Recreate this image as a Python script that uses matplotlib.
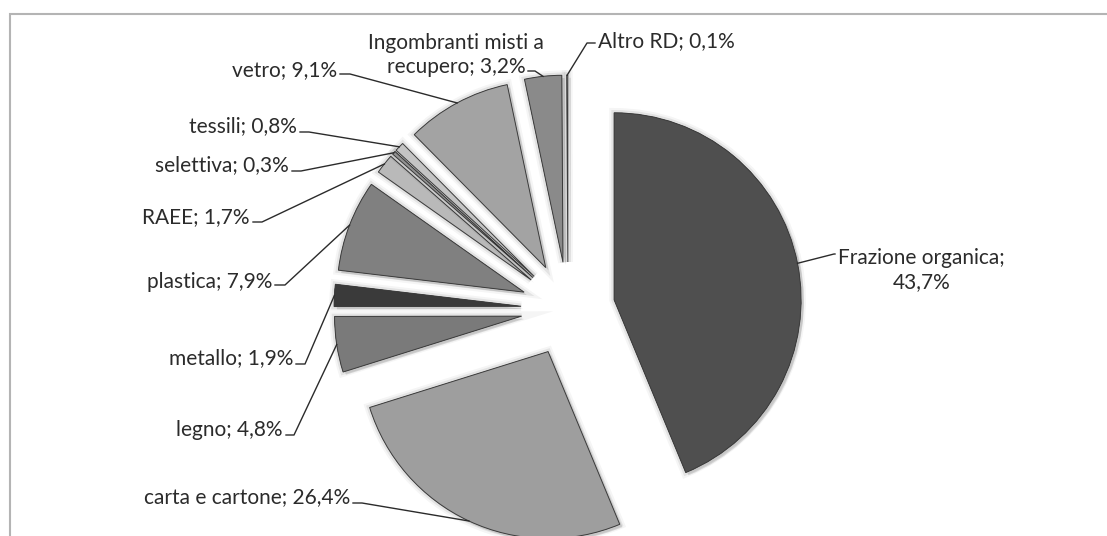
import numpy as np
import matplotlib
matplotlib.use("Agg")
import matplotlib.pyplot as plt
import matplotlib.patheffects as pe
from matplotlib.patches import Rectangle

# dati (percentuali raccolta differenziata)
nomi = ["Frazione organica", "carta e cartone", "legno", "metallo", "plastica",
        "RAEE", "selettiva", "tessili", "vetro",
        "Ingombranti misti a\nrecupero", "Altro RD"]
valori = [43.7, 26.4, 4.8, 1.9, 7.9, 1.7, 0.3, 0.8, 9.1, 3.2, 0.1]
colori = ["#4f4f4f", "#9e9e9e", "#7a7a7a", "#3a3a3a", "#808080",
          "#b9b9b9", "#9a9a9a", "#c4c4c4", "#a3a3a3", "#8a8a8a", "#c0c0c0"]

W, H = 1107, 536
plt.rcParams['font.family'] = ['Lato', 'DejaVu Sans']

fig = plt.figure(figsize=(W / 100, H / 100), dpi=100)
ax = fig.add_axes([0, 0, 1, 1])


def px(x, y):
    # coordinate schermo -> coordinate dati
    return x, H - y


centro = px(568, 309)
raggio = 187
# in matplotlib explode e' in unita' dati (qui pixel)
wedges, _ = ax.pie(valori, explode=[47] * len(valori), colors=colori,
                   startangle=90, counterclock=False, radius=raggio,
                   center=centro,
                   wedgeprops=dict(edgecolor="#3c3c3c", linewidth=0.7))
for w in wedges:
    w.set_path_effects([
        pe.SimplePatchShadow(offset=(2, -2), shadow_rgbFace=(0, 0, 0), alpha=0.12),
        pe.Stroke(linewidth=7, foreground=(0, 0, 0, 0.04)),
        pe.Stroke(linewidth=4, foreground=(0, 0, 0, 0.07)),
        pe.Normal()])

ax.set_xlim(0, W)
ax.set_ylim(0, H)
ax.set_aspect('equal')
ax.axis('off')

# cornice del grafico
ax.add_patch(Rectangle(px(10, 560), W + 20, 546, fill=False,
                       edgecolor="#b4b4b4", linewidth=1.5))

# posizione etichette: (x testo, y testo, allineamento, x gomito, y gomito)
pos = [
    (838, 270, 'left', 834, 254),
    (350, 497, 'right', 362, 503),
    (283, 430, 'right', 294, 435),
    (293, 358, 'right', 305, 364),
    (272, 282, 'right', 285, 285),
    (250, 217, 'right', 262, 222),
    (289, 165, 'right', 301, 171),
    (297, 126, 'right', 309, 132),
    (337, 70, 'right', 350, 74),
    (456, 55, 'center', 535, 71),
    (598, 41, 'left', 587, 43),
]

for w, nome, v, (tx, ty, ha, ex, ey) in zip(wedges, nomi, valori, pos):
    sep = ";\n" if nome.startswith("Frazione") else "; "
    testo = f"{nome}{sep}{v:.1f}%".replace(".", ",")
    ax.text(*px(tx, ty), testo, ha=ha, va='center', multialignment='center',
            fontsize=15, color="#2b2b2b", linespacing=1.25)
    # punto di attacco sul bordo esterno della fetta
    ang = np.deg2rad((w.theta1 + w.theta2) / 2)
    ax_, ay_ = w.center[0] + w.r * np.cos(ang), w.center[1] + w.r * np.sin(ang)
    gx, gy = px(ex, ey)
    sx = tx + 3 if ha == 'right' else tx - 3
    if ha == 'center':
        sx = 528
    ax.plot([px(sx, ey)[0], gx, ax_], [gy, gy, ay_], color="#2b2b2b", lw=1)

fig.savefig("out.png", dpi=100)
